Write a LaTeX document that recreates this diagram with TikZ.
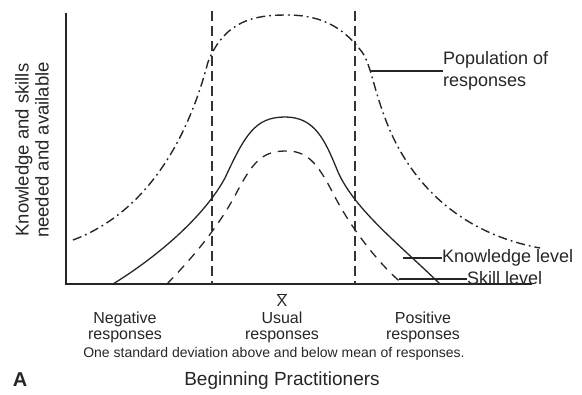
\documentclass[tikz,border=0pt]{standalone}
\usepackage{fontspec}
\setmainfont{Liberation Sans}
\begin{document}
\begin{tikzpicture}[x=1pt,y=-1pt,
  axis/.style={line width=1.4pt,black!85},
  sdline/.style={line width=1.3pt,black!80,dash pattern=on 10pt off 5pt},
  popcurve/.style={line width=1.4pt,black!85,dash pattern=on 9pt off 4pt on 1.8pt off 4pt},
  knowcurve/.style={line width=1.3pt,black!85},
  skillcurve/.style={line width=1.3pt,black!85,dash pattern=on 9pt off 7pt},
  leader/.style={line width=1.1pt,black!85},
  biglabel/.style={inner sep=0pt,font=\fontsize{18}{22}\selectfont,text=black!85},
  ticklabel/.style={inner sep=0pt,align=center,font=\fontsize{16}{16}\selectfont,text=black!85}]
\useasboundingbox (0,0) rectangle (582,395);

% axes
\coordinate (origin) at (66,284);
\coordinate (ytop) at (66,13);
\coordinate (xend) at (532,284);
\draw[axis] (ytop) -- (origin) -- (xend);

% one standard deviation either side of the mean
\coordinate (sdLtop) at (212,11);
\coordinate (sdLbot) at (212,284);
\coordinate (sdRtop) at (355,11);
\coordinate (sdRbot) at (355,284);
\draw[sdline] (sdLtop) -- (sdLbot);
\draw[sdline] (sdRtop) -- (sdRbot);

% population of responses
\draw[popcurve] (73,240) .. controls (140,215) and (185,150) .. (208,62)
  .. controls (225,20) and (255,15) .. (287,15)
  .. controls (325,15) and (345,30) .. (362,52)
  .. controls (372,66) and (374,95) .. (392,135)
  .. controls (420,195) and (470,235) .. (540,248);
\coordinate (popPt) at (371,71);

% knowledge level
\draw[knowcurve] (113,284) .. controls (160,255) and (205,215) .. (225,178)
  .. controls (245,135) and (255,117) .. (285,117)
  .. controls (315,117) and (325,140) .. (338,172)
  .. controls (355,210) and (400,245) .. (440,284);
\coordinate (knowPt) at (403,258);

% skill level
\draw[skillcurve] (167,284) .. controls (195,255) and (220,225) .. (238,190)
  .. controls (255,158) and (265,151) .. (287,151)
  .. controls (310,151) and (320,168) .. (335,197)
  .. controls (355,235) and (385,270) .. (403,284);
\coordinate (skillPt) at (399,279);

% curve labels with leaders
\node[biglabel,anchor=west,align=left] (popLab) at (443,71) {Population of\\responses};
\node[biglabel,anchor=west] (knowLab) at (442,258) {Knowledge level};
\node[biglabel,anchor=west] (skillLab) at (467,278) {Skill level};
\draw[leader] (popPt) -- (popLab.west);
\draw[leader] (knowPt) -- (knowLab.west);
\draw[leader] (skillPt) -- (skillLab.west |- skillPt);

% axis titles
\node[biglabel,rotate=90,align=center,font=\fontsize{18.5}{20}\selectfont] (ylab) at (32,150)
  {Knowledge and skills\\needed and available};
\node[biglabel,font=\fontsize{19}{19}\selectfont] (xlab) at (282,381) {Beginning Practitioners};
\node[inner sep=0pt,font=\fontsize{20}{20}\selectfont\bfseries,text=black!85] (panel) at (20,380) {A};

% response categories
\node[ticklabel] (mean) at (282,300) {$\overline{\hbox{X}}$};
\node[ticklabel] (neg) at (125,327) {Negative\\responses};
\node[ticklabel] (usual) at (282,327) {Usual\\responses};
\node[ticklabel] (pos) at (423,327) {Positive\\responses};
\node[ticklabel,font=\fontsize{14}{14}\selectfont] (sdnote) at (274,354)
  {One standard deviation above and below mean of responses.};
\end{tikzpicture}
\end{document}
